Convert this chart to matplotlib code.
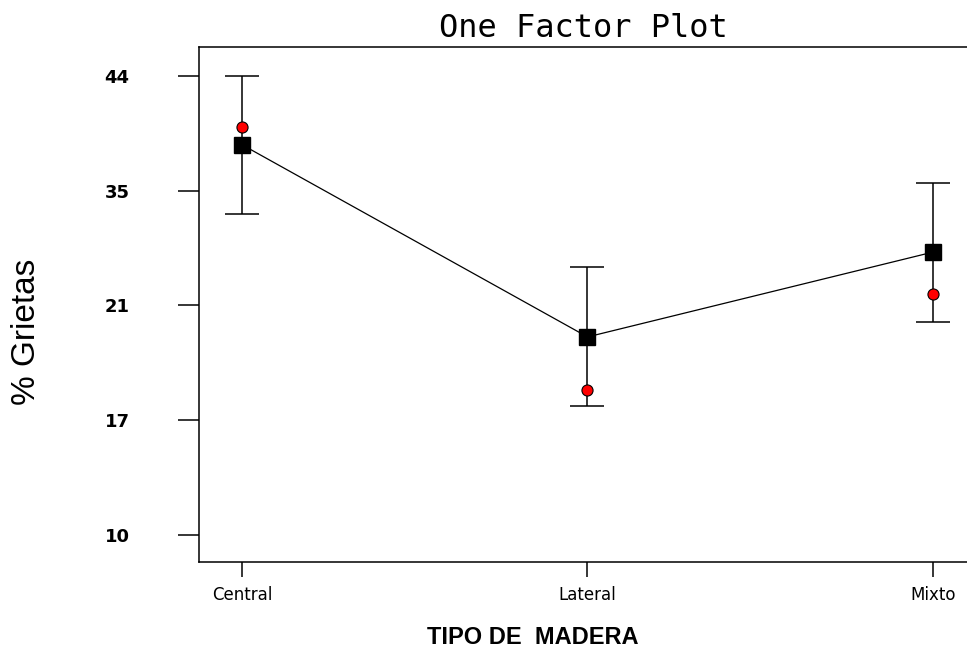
import numpy as np
import matplotlib.pyplot as plt

tipos = ['Central', 'Lateral', 'Mixto']
medias = [38.6, 19.9, 27.5]      # cuadrados negros
puntos = [40.0, 18.05, 22.35]    # puntos rojos
sup = [44.0, 25.7, 35.6]         # extremo superior de la barra
inf = [32.1, 17.5, 20.43]        # extremo inferior de la barra
yticks = [10, 17, 21, 35, 44]

# eje y con marcas equiespaciadas (escala por tramos)
vals = [0, 10, 17, 21, 35, 44, 60]
pos = [-10/7, 0, 1, 2, 3, 4, 4 + 16/9]

def fwd(v):
    return np.interp(v, vals, pos)

def inv(p):
    return np.interp(p, pos, vals)

fig = plt.figure(figsize=(9.67, 6.51), dpi=100)
ax = fig.add_axes([0.2058, 0.1367, 0.7942, 0.791])
ax.set_yscale('function', functions=(fwd, inv))

x = np.arange(1, len(tipos) + 1)
medias = np.array(medias)
yerr = [medias - np.array(inf), np.array(sup) - medias]
ax.errorbar(x, medias, yerr=yerr, fmt='none', ecolor='black',
            elinewidth=1.1, capsize=12, capthick=1.1)
ax.plot(x, medias, color='black', lw=0.9)
ax.plot(x, medias, 's', ms=11, color='black')
ax.plot(x, puntos, 'o', ms=8, mfc='red', mec='black', mew=0.8)

ax.set_xlim(0.876, 3.098)
ax.set_ylim(8.35, 46.25)
ax.set_xticks(x)
ax.set_xticklabels(tipos, fontsize=12, family='DejaVu Sans')
ax.set_yticks(yticks)
ax.set_yticklabels([str(t) for t in yticks], fontsize=13,
                   fontweight='bold', family='DejaVu Sans')
ax.yaxis.set_minor_locator(plt.NullLocator())
ax.tick_params(axis='y', direction='out', length=15, width=1.1, pad=35)
ax.tick_params(axis='x', direction='out', length=11, width=1.1, pad=6)
ax.spines['right'].set_visible(False)
for s in ['left', 'bottom', 'top']:
    ax.spines[s].set_linewidth(1.1)

ax.set_title('One Factor Plot', fontsize=23, family='DejaVu Sans Mono', pad=7)
fig.text(27/967, 1 - 332/651, '% Grietas', rotation=90, ha='center',
         va='center', fontsize=24, family='Liberation Sans')
fig.text(533/967, 1 - 637/651, 'TIPO DE  MADERA', ha='center', va='center',
         fontsize=17, fontweight='bold', family='Liberation Sans')

fig.savefig('out.png', dpi=100)
